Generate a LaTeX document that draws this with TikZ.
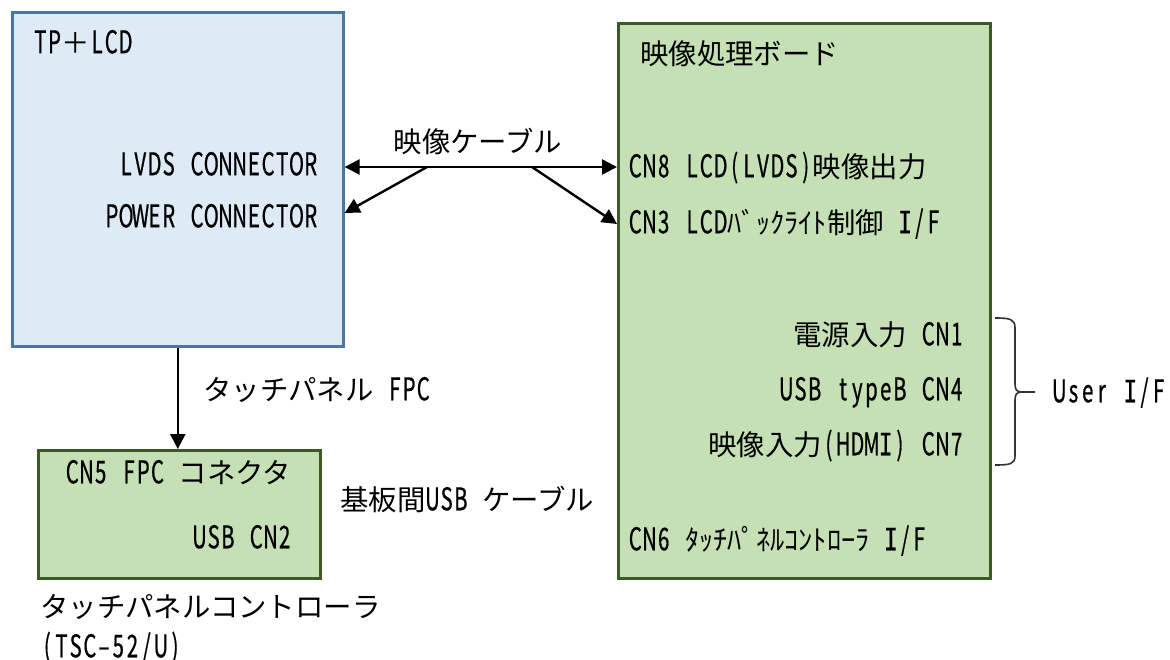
\documentclass[tikz,border=0pt]{standalone}
\usepackage{fontspec}
\setmainfont{Noto Sans CJK JP}
\newfontfamily\latfont[FakeStretch=0.65,Scale=1.1,FakeBold=0.6]{Noto Sans CJK JP}
\newfontfamily\ifont[FakeStretch=0.75,Scale=1.08,FakeBold=0.4]{DejaVu Sans Mono}
\newlength\cellw
\setlength\cellw{14.2pt}
\ExplSyntaxOn
\NewDocumentCommand\mono{m}{
  \tl_map_inline:nn {#1} {
    \str_if_eq:nnTF {##1} {I}
      {\makebox[\cellw][c]{\ifont I}}
      {\makebox[\cellw][c]{\latfont ##1}}
  }
}
\ExplSyntaxOff
\usetikzlibrary{arrows.meta}
\definecolor{tpfill}{HTML}{DEEAF6}
\definecolor{tpline}{HTML}{4A76A6}
\definecolor{bdfill}{HTML}{C5E0B4}
\definecolor{bdline}{HTML}{3B5A26}
\begin{document}
\begin{tikzpicture}[x=1pt,y=-1pt,
  lbl/.style={inner sep=0pt,text height=20.5pt,text depth=0pt,font=\fontsize{28.4}{30}\selectfont},
  tpbox/.style={draw=tpline,fill=tpfill,line width=2.6pt,anchor=north west,inner sep=0pt},
  bdbox/.style={draw=bdline,fill=bdfill,line width=2.6pt,anchor=north west,inner sep=0pt},
  arr/.style={line width=2.4pt,-{Triangle[length=15pt,width=15pt]}},
  darr/.style={line width=2.4pt,{Triangle[length=15pt,width=15pt]}-{Triangle[length=15pt,width=15pt]}},
  bracestyle/.style={line width=1.6pt,draw=black!80}]
\useasboundingbox (0,0) rectangle (1170,660);
% boxes
\node[tpbox,minimum width=331pt,minimum height=334pt] (tp) at (11,11) {};
\node[bdbox,minimum width=372pt,minimum height=555pt] (bd) at (617,22) {};
\node[bdbox,minimum width=282pt,minimum height=128pt] (ctrl) at (37,449) {};
% texts
\node[lbl,anchor=west] (tptitle) at (33,43) {\mono{TP}＋\mono{LCD}};
\node[lbl,anchor=east] (lvds) at (318,165) {\mono{LVDS~CONNECTOR}};
\node[lbl,anchor=east] (pwr) at (318,217) {\mono{POWER~CONNECTOR}};
\node[lbl,anchor=center] (cable) at (478,142) {映像ケーブル};
\node[lbl,anchor=west] (bdtitle) at (640,54) {映像処理ボード};
\node[lbl,anchor=west] (cn8) at (628,167) {\mono{CN8~LCD(LVDS)}映像出力};
\node[lbl,anchor=west] (cn3) at (628,223) {\mono{CN3~LCD}ﾊﾞｯｸﾗｲﾄ制御\mono{~I/F}};
\node[lbl,anchor=east] (cn1) at (964,335) {電源入力\mono{~CN1}};
\node[lbl,anchor=east] (cn4) at (964,390) {\mono{USB~typeB~CN4}};
\node[lbl,anchor=east] (cn7) at (964,445) {映像入力\mono{(HDMI)~CN7}};
\node[lbl,anchor=west] (cn6) at (628,540) {\mono{CN6~}ﾀｯﾁﾊﾟﾈﾙｺﾝﾄﾛｰﾗ\mono{~I/F}};
\node[lbl,anchor=west] (userif) at (1052,392) {\mono{User~I/F}};
\node[lbl,anchor=west] (fpc) at (203,390) {タッチパネル\mono{~FPC}};
\node[lbl,anchor=west] (usbcable) at (340,500) {基板間\mono{USB~}ケーブル};
\node[lbl,anchor=west] (cn5) at (65,473) {\mono{CN5~FPC~}コネクタ};
\node[lbl,anchor=east] (cn2) at (292,538) {\mono{USB~CN2}};
\node[lbl,anchor=west] (ctrlname) at (40,607) {タッチパネルコントローラ};
\node[lbl,anchor=west] (tsc) at (40,647) {\mono{(TSC–52/U)}};
% connectors
\coordinate (j1) at (427,167);
\coordinate (j2) at (532,167);
\draw[darr] (tp.east |- cn8.west) -- (bd.west |- cn8.west);
\draw[arr] (j1) -- ([yshift=4pt]tp.east |- pwr.east);
\draw[arr] (j2) -- ([yshift=-1pt]bd.west |- cn3.west);
\draw[arr] (tp.south) -- (tp.south |- ctrl.north);
% brace
\coordinate (bt) at (995,318);
\coordinate (bb) at (995,465);
\coordinate (btip) at (1035,392);
\draw[bracestyle] (bt) .. controls (1010,318) and (1015,319) .. (1015,328)
  -- (1015,384) .. controls (1015,390) and (1017,392) .. (1022,392) -- (btip);
\draw[bracestyle] (1022,392) .. controls (1017,392) and (1015,394) .. (1015,400)
  -- (1015,456) .. controls (1015,464) and (1010,465) .. (bb);
\end{tikzpicture}
\end{document}
